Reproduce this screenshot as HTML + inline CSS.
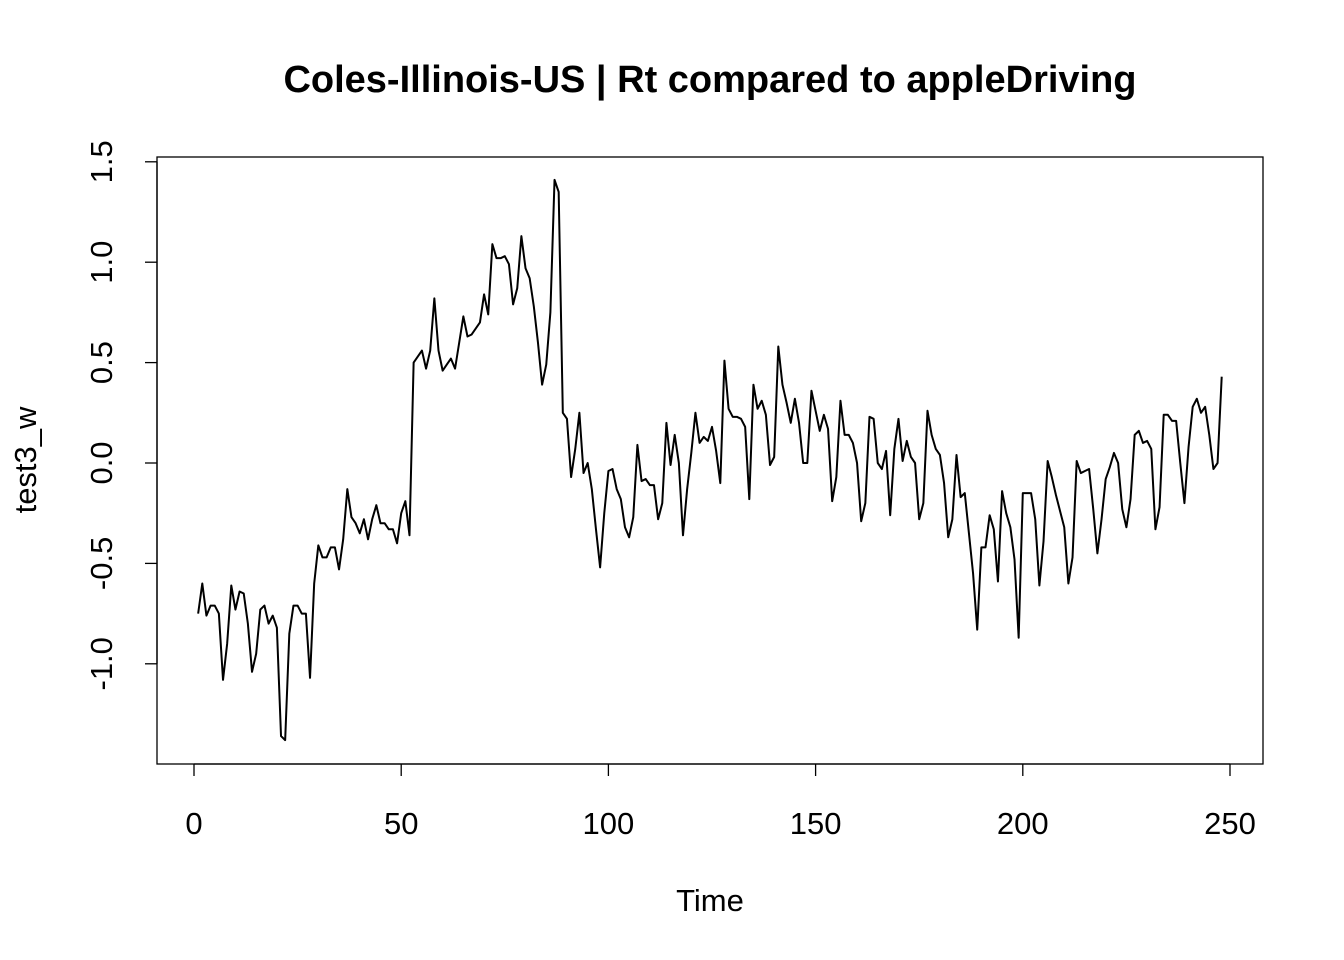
<!DOCTYPE html>
<html><head><meta charset="utf-8"><style>
html,body{margin:0;padding:0;background:#fff;}
svg{display:block;font-family:"Liberation Sans",Arial,sans-serif;}
</style></head><body>
<svg id="chart" width="1344" height="960" viewBox="0 0 1344 960" xmlns="http://www.w3.org/2000/svg">
<rect x="0" y="0" width="1344" height="960" fill="#fff"/>
<text x="710" y="92" text-anchor="middle" font-size="38" font-weight="bold">Coles-Illinois-US | Rt compared to appleDriving</text>
<rect x="157" y="157" width="1106" height="607" fill="none" stroke="#000" stroke-width="1.3"/>
<text x="710" y="911" text-anchor="middle" font-size="31">Time</text>
<text transform="translate(36,460) rotate(-90)" text-anchor="middle" font-size="31">test3_w</text>
<g id="axes"></g>
<path id="series" fill="none" stroke="#000" stroke-width="2" stroke-linejoin="round"/>
</svg>
<script>
const xTicks = [0, 50, 100, 150, 200, 250];
const yTicks = [-1.0, -0.5, 0.0, 0.5, 1.0, 1.5];
const yTickLabels = ["-1.0", "-0.5", "0.0", "0.5", "1.0", "1.5"];
const values = [
-0.75,-0.60,-0.76,-0.71,-0.71,-0.75,-1.08,-0.90,-0.61,-0.73,-0.64,-0.65,-0.80,-1.04,-0.95,-0.73,-0.71,-0.80,-0.76,-0.82,-1.36,
-1.38,-0.85,-0.71,-0.71,-0.75,-0.75,-1.07,-0.60,-0.41,-0.47,-0.47,-0.42,-0.42,-0.53,-0.38,-0.13,-0.27,-0.30,-0.35,-0.28,-0.38,
-0.28,-0.21,-0.30,-0.30,-0.33,-0.33,-0.40,-0.25,-0.19,-0.36,0.50,0.53,0.56,0.47,0.56,0.82,0.56,0.46,0.49,0.52,
0.47,0.60,0.73,0.63,0.64,0.67,0.70,0.84,0.74,1.09,1.02,1.02,1.03,0.99,0.79,0.87,1.13,0.97,0.92,
0.78,0.60,0.39,0.49,0.75,1.41,1.35,0.25,0.22,-0.07,0.07,0.25,-0.05,0.00,-0.13,-0.33,
-0.52,-0.25,-0.04,-0.03,-0.13,-0.18,-0.32,-0.37,-0.27,0.09,-0.09,-0.08,-0.11,-0.11,-0.28,-0.20,0.20,-0.01,0.14,0.00,
-0.36,-0.13,0.05,0.25,0.10,0.13,0.11,0.18,0.06,-0.10,0.51,0.27,0.23,0.23,0.22,0.18,-0.18,0.39,0.27,0.31,0.24,
-0.01,0.03,0.58,0.39,0.30,0.20,0.32,0.20,0.00,0.00,0.36,0.26,0.16,0.24,0.17,-0.19,-0.07,0.31,0.14,0.14,
0.10,0.00,-0.29,-0.20,0.23,0.22,0.00,-0.03,0.06,-0.26,0.07,0.22,0.01,0.11,0.03,0.00,-0.28,
-0.20,0.26,0.14,0.07,0.04,-0.10,-0.37,-0.28,0.04,-0.17,-0.15,-0.35,-0.55,-0.83,-0.42,-0.42,-0.26,-0.33,-0.59,-0.14,
-0.25,-0.32,-0.48,-0.87,-0.15,-0.15,-0.15,-0.28,-0.61,-0.39,0.01,-0.07,-0.16,-0.24,-0.32,-0.60,-0.47,0.01,-0.05,-0.04,
-0.03,-0.23,-0.45,-0.28,-0.08,-0.02,0.05,0.00,-0.23,-0.32,-0.18,0.14,0.16,0.10,0.11,0.07,-0.33,-0.22,0.24,0.24,
0.21,0.21,0.00,-0.20,0.08,0.28,0.32,0.25,0.28,0.14,-0.03,0.00,0.43
];
const NS = "http://www.w3.org/2000/svg";
function xs(t){ return 194 + (t - 0) * (1230 - 194) / 250; }
function ys(v){ return 463 - v * 200.8; }
const g = document.getElementById('axes');
function mk(tag, attrs){ const e = document.createElementNS(NS, tag); for (const k in attrs) e.setAttribute(k, attrs[k]); g.appendChild(e); return e; }
let l = mk('line', {x1: xs(xTicks[0]), x2: xs(xTicks[xTicks.length-1]), y1: 764, y2: 764, stroke: '#000', 'stroke-width': 1.3});


xTicks.forEach(t => {
  const tk = mk('line', {x1: xs(t), x2: xs(t), y1: 764, y2: 776, stroke: '#000', 'stroke-width': 1.3});
  
  
  const tx = mk('text', {x: xs(t), y: 834, 'text-anchor': 'middle', 'font-size': 31});
  tx.textContent = String(t);
  
  
});
l = mk('line', {x1: 157, x2: 157, y1: ys(yTicks[0]), y2: ys(yTicks[yTicks.length-1]), stroke: '#000', 'stroke-width': 1.3});


yTicks.forEach((v, i) => {
  const tk = mk('line', {x1: 145, x2: 157, y1: ys(v), y2: ys(v), stroke: '#000', 'stroke-width': 1.3});
  
  
  const tx = mk('text', {transform: 'translate(112,' + ys(v) + ') rotate(-90)', 'text-anchor': 'middle', 'font-size': 31});
  tx.textContent = yTickLabels[i];
  
  
});
const d = values.map((v, i) => (i ? 'L' : 'M') + xs(i + 1).toFixed(2) + ',' + ys(v).toFixed(2)).join(' ');
document.getElementById('series').setAttribute('d', d);
</script>
</body></html>
